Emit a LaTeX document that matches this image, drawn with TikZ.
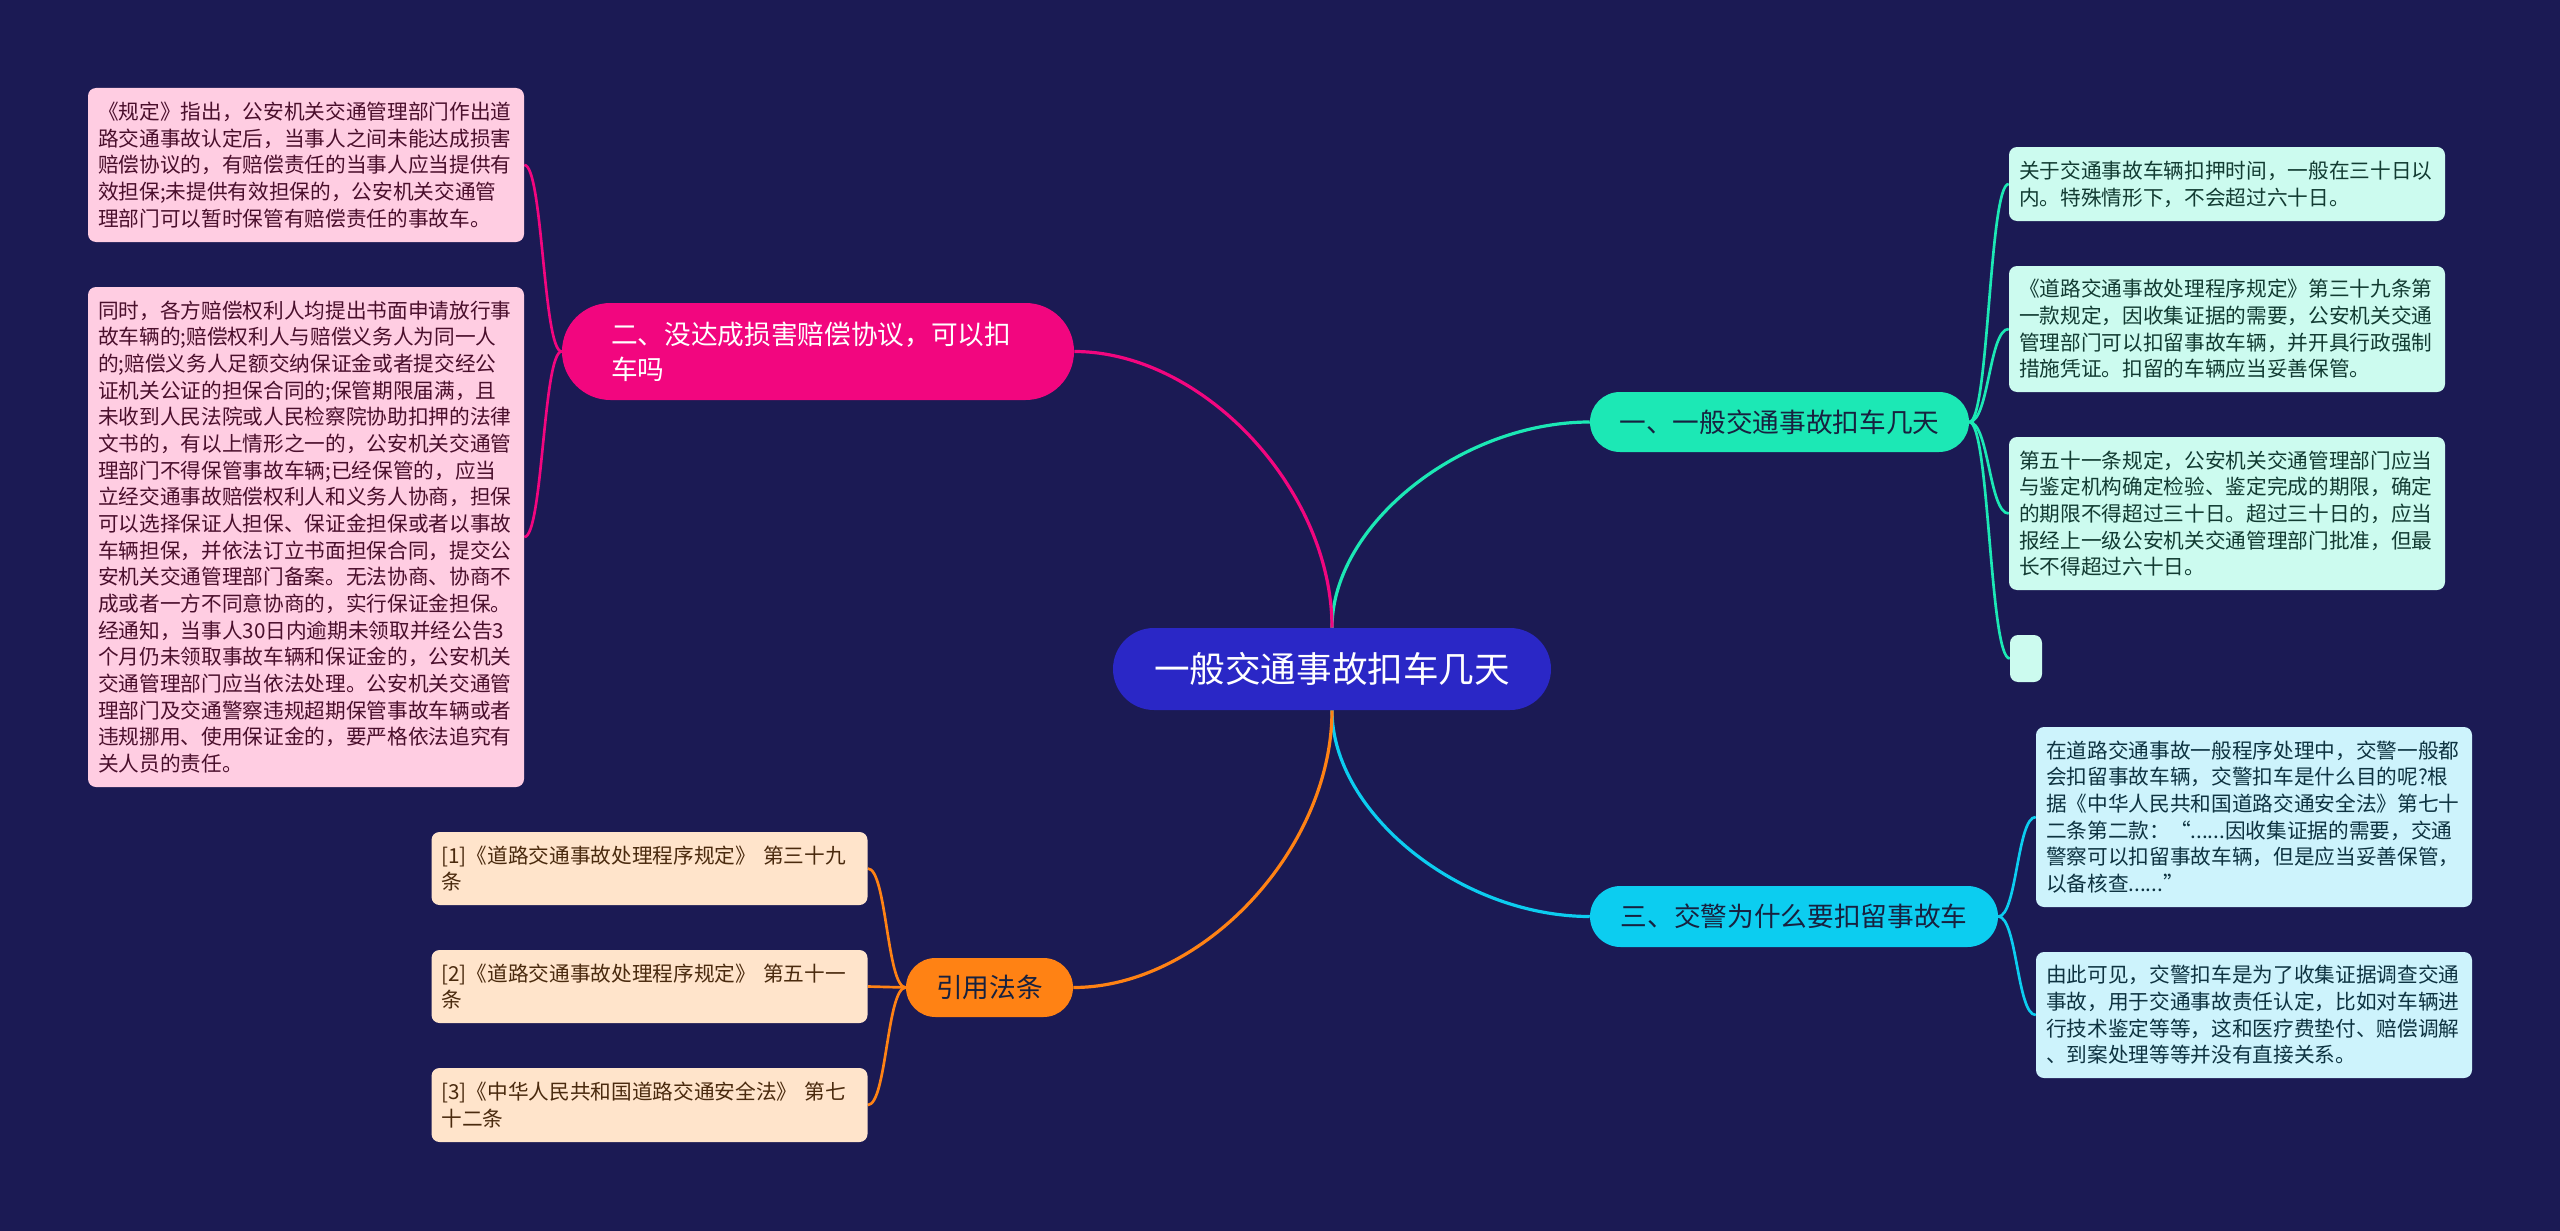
\documentclass[tikz,border=0pt]{standalone}
\usepackage{fontspec}
\setmainfont{Noto Sans CJK SC}
\usetikzlibrary{shapes.misc,calc}
\definecolor{bgc}{HTML}{1B1A54}
\definecolor{rootc}{HTML}{2A27C6}
\definecolor{c1}{HTML}{1CE8B5}
\definecolor{c2}{HTML}{F2067F}
\definecolor{c3}{HTML}{0CCDF0}
\definecolor{c4}{HTML}{FF8214}
\definecolor{f1}{HTML}{CCFBEF}
\definecolor{f2}{HTML}{FFCDE2}
\definecolor{f3}{HTML}{CDF3FC}
\definecolor{f4}{HTML}{FFE4CB}
\definecolor{t1}{HTML}{123B32}
\definecolor{t2}{HTML}{4A0F2C}
\definecolor{t3}{HTML}{0E3341}
\definecolor{t4}{HTML}{4A2A0E}
\definecolor{tb}{HTML}{17213F}
\pgfdeclarelayer{back}
\pgfdeclarelayer{lines}
\pgfsetlayers{back,lines,main}
\begin{document}
\begin{tikzpicture}[x=0.75pt,y=-0.75pt,
  rootnode/.style={rounded rectangle, fill=rootc, text=white, inner sep=0pt,
    minimum width=328.5pt, minimum height=61.5pt,
    font=\fontsize{26.7pt}{32pt}\selectfont},
  branchnode/.style={rounded rectangle, inner sep=0pt,
    font=\fontsize{20pt}{26.25pt}\selectfont},
  leafnode/.style={rectangle, rounded corners=6pt, inner xsep=7.5pt, inner ysep=0pt,
    text width=312pt, align=left, font=\fontsize{15.5pt}{20pt}\selectfont},
  rootlink/.style={line width=2.4pt, to path={.. controls ($(\tikztostart)!.5!(\tikztostart|-\tikztotarget)$) and ($(\tikztotarget)!.5!(\tikztostart|-\tikztotarget)$) .. (\tikztotarget)}},
  leaflink/.style={line width=2pt, to path={.. controls ($(\tikztostart)!.5!(\tikztotarget|-\tikztostart)$) and ($(\tikztotarget)!.5!(\tikztostart|-\tikztotarget)$) .. (\tikztotarget)}}
]
\begin{pgfonlayer}{back}
\fill[bgc] (0,0) rectangle (2560,1231);
\end{pgfonlayer}
\useasboundingbox (0,0) rectangle (2560,1231);

% root
\node[rootnode] (root) at (1332,669) {一般交通事故扣车几天};

% branches
\node[branchnode, fill=c1, text=tb, minimum width=284.25pt, minimum height=45pt] (b1) at (1779.5,422) {一、一般交通事故扣车几天};
\node[branchnode, fill=c2, text=white, minimum width=384pt, minimum height=72.75pt, text width=310.5pt, align=left] (b2) at (818,351.5) {二、没达成损害赔偿协议，可以扣\\车吗};
\node[branchnode, fill=c3, text=tb, minimum width=306pt, minimum height=45.75pt] (b3) at (1794,916.5) {三、交警为什么要扣留事故车};
\node[branchnode, fill=c4, text=tb, minimum width=125.25pt, minimum height=44.25pt] (b4) at (989.5,987.5) {引用法条};

% leaves of branch 1
\node[leafnode, fill=f1, text=t1, minimum height=55.5pt] (l1a) at (2227,184) {关于交通事故车辆扣押时间，一般在三十日以\\内。特殊情形下，不会超过六十日。};
\node[leafnode, fill=f1, text=t1, minimum height=94.5pt] (l1b) at (2227,329) {《道路交通事故处理程序规定》第三十九条第\\一款规定，因收集证据的需要，公安机关交通\\管理部门可以扣留事故车辆，并开具行政强制\\措施凭证。扣留的车辆应当妥善保管。};
\node[leafnode, fill=f1, text=t1, minimum height=114.75pt] (l1c) at (2227,513.5) {第五十一条规定，公安机关交通管理部门应当\\与鉴定机构确定检验、鉴定完成的期限，确定\\的期限不得超过三十日。超过三十日的，应当\\报经上一级公安机关交通管理部门批准，但最\\长不得超过六十日。};
\node[rectangle, rounded corners=6pt, fill=f1, inner sep=0pt, minimum width=24pt, minimum height=35.25pt] (l1d) at (2026,658.5) {};

% leaves of branch 2
\node[leafnode, fill=f2, text=t2, minimum height=115.5pt] (l2a) at (306,165) {《规定》指出，公安机关交通管理部门作出道\\路交通事故认定后，当事人之间未能达成损害\\赔偿协议的，有赔偿责任的当事人应当提供有\\效担保;未提供有效担保的，公安机关交通管\\理部门可以暂时保管有赔偿责任的事故车。};
\node[leafnode, fill=f2, text=t2, minimum height=375pt] (l2b) at (306,537) {同时，各方赔偿权利人均提出书面申请放行事\\故车辆的;赔偿权利人与赔偿义务人为同一人\\的;赔偿义务人足额交纳保证金或者提交经公\\证机关公证的担保合同的;保管期限届满，且\\未收到人民法院或人民检察院协助扣押的法律\\文书的，有以上情形之一的，公安机关交通管\\理部门不得保管事故车辆;已经保管的，应当\\立经交通事故赔偿权利人和义务人协商，担保\\可以选择保证人担保、保证金担保或者以事故\\车辆担保，并依法订立书面担保合同，提交公\\安机关交通管理部门备案。无法协商、协商不\\成或者一方不同意协商的，实行保证金担保。\\经通知，当事人30日内逾期未领取并经公告3\\个月仍未领取事故车辆和保证金的，公安机关\\交通管理部门应当依法处理。公安机关交通管\\理部门及交通警察违规超期保管事故车辆或者\\违规挪用、使用保证金的，要严格依法追究有\\关人员的责任。};

% leaves of branch 3
\node[leafnode, fill=f3, text=t3, minimum height=135pt] (l3a) at (2254,817) {在道路交通事故一般程序处理中，交警一般都\\会扣留事故车辆，交警扣车是什么目的呢?根\\据《中华人民共和国道路交通安全法》第七十\\二条第二款：“......因收集证据的需要，交通\\警察可以扣留事故车辆，但是应当妥善保管，\\以备核查......”};
\node[leafnode, fill=f3, text=t3, minimum height=94.5pt] (l3b) at (2254,1015) {由此可见，交警扣车是为了收集证据调查交通\\事故，用于交通事故责任认定，比如对车辆进\\行技术鉴定等等，这和医疗费垫付、赔偿调解\\、到案处理等等并没有直接关系。};

% leaves of branch 4
\node[leafnode, fill=f4, text=t4, minimum height=54.75pt] (l4a) at (649.5,868.5) {[1]《道路交通事故处理程序规定》~第三十九\\条};
\node[leafnode, fill=f4, text=t4, minimum height=54.75pt] (l4b) at (649.5,986.5) {[2]《道路交通事故处理程序规定》~第五十一\\条};
\node[leafnode, fill=f4, text=t4, minimum height=55.5pt] (l4c) at (649.5,1105) {[3]《中华人民共和国道路交通安全法》~第七\\十二条};

\begin{pgfonlayer}{lines}
\draw[rootlink, c1] (root.north) to (b1.west);
\draw[rootlink, c2] (root.north) to (b2.east);
\draw[rootlink, c3] (root.south) to (b3.west);
\draw[rootlink, c4] (root.south) to (b4.east);

\draw[leaflink, c1] (b1.east) to (l1a.west);
\draw[leaflink, c1] (b1.east) to (l1b.west);
\draw[leaflink, c1] (b1.east) to (l1c.west);
\draw[leaflink, c1] (b1.east) to (l1d.west);

\draw[leaflink, c2] (b2.west) to (l2a.east);
\draw[leaflink, c2] (b2.west) to (l2b.east);

\draw[leaflink, c3] (b3.east) to (l3a.west);
\draw[leaflink, c3] (b3.east) to (l3b.west);

\draw[leaflink, c4] (b4.west) to (l4a.east);
\draw[leaflink, c4] (b4.west) to (l4b.east);
\draw[leaflink, c4] (b4.west) to (l4c.east);
\end{pgfonlayer}
\end{tikzpicture}
\end{document}
